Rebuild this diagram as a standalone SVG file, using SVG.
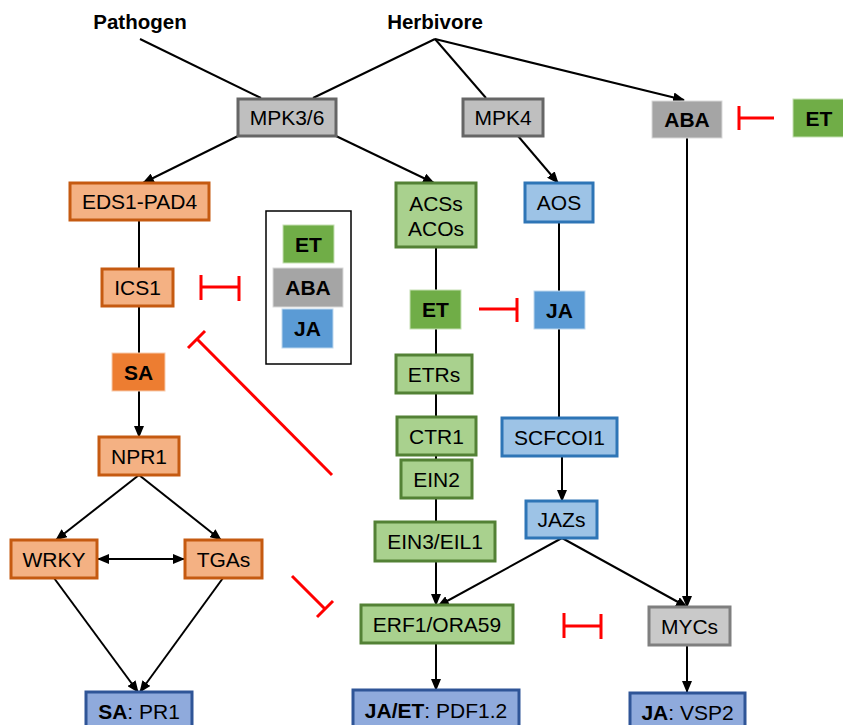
<svg xmlns="http://www.w3.org/2000/svg" width="843" height="725" viewBox="0 0 843 725">
<style>
text{font-family:"Liberation Sans",Arial,sans-serif;font-size:21px;fill:#000;text-anchor:middle}
.b{font-weight:bold}
.h{font-size:20.5px}
.or{fill:#f4b183;stroke:#c55a11;stroke-width:3}
.sa{fill:#ed7d31;stroke:#f8cbad;stroke-width:1}
.gr{fill:#a9d18e;stroke:#538135;stroke-width:3}
.et{fill:#70ad47;stroke:#c5e0b4;stroke-width:1}
.bl{fill:#9dc3e6;stroke:#2e75b6;stroke-width:3}
.ja{fill:#5b9bd5;stroke:#bdd7ee;stroke-width:1}
.gy{fill:#bfbfbf;stroke:#666;stroke-width:3}
.aba{fill:#a5a5a5;stroke:#d9d9d9;stroke-width:1}
.my{fill:#c9c9c9;stroke:#7f7f7f;stroke-width:3}
.out{fill:#8faadc;stroke:#2f5597;stroke-width:3}
.ln{fill:none;stroke:#000;stroke-width:2}
.ar{fill:none;stroke:#000;stroke-width:2;marker-end:url(#ah)}
.inh{fill:none;stroke:#ff0000;stroke-width:3}
</style>
<defs>
<marker id="ah" markerUnits="userSpaceOnUse" markerWidth="12" markerHeight="10" refX="11" refY="5" orient="auto">
<path d="M0,0 L12,5 L0,10 Z" fill="#000"/>
</marker>
<marker id="ahs" markerUnits="userSpaceOnUse" markerWidth="12" markerHeight="10" refX="1" refY="5" orient="auto">
<path d="M12,0 L0,5 L12,10 Z" fill="#000"/>
</marker>
</defs>
<rect width="843" height="725" fill="#fff"/>
<g id="connectors">
<line class="ln" x1="140" y1="39" x2="261" y2="98"/>
<line class="ln" x1="435" y1="39" x2="313" y2="98"/>
<line class="ln" x1="435" y1="39" x2="486" y2="98"/>
<line class="ar" x1="435" y1="39" x2="684" y2="100"/>
<line class="ar" x1="238" y1="136" x2="143" y2="183"/>
<line class="ar" x1="336" y1="136" x2="434" y2="183"/>
<line class="ar" x1="518" y1="136" x2="558" y2="183"/>
<line class="ln" x1="139" y1="220" x2="139" y2="269"/>
<line class="ln" x1="139" y1="306" x2="139" y2="353"/>
<line class="ar" x1="139" y1="391" x2="139" y2="437"/>
<line class="ar" x1="139" y1="475" x2="56" y2="540"/>
<line class="ar" x1="139" y1="475" x2="221" y2="540"/>
<line class="ar" x1="98" y1="559" x2="184" y2="559" marker-start="url(#ahs)"/>
<line class="ar" x1="54" y1="578" x2="138" y2="692"/>
<line class="ar" x1="223" y1="578" x2="140" y2="692"/>
<line class="ar" x1="436" y1="247" x2="436" y2="605"/>
<line class="ar" x1="436" y1="643" x2="436" y2="690"/>
<line class="ln" x1="559" y1="222" x2="559" y2="291"/>
<line class="ln" x1="559" y1="329" x2="559" y2="418"/>
<line class="ar" x1="562" y1="456" x2="562" y2="501"/>
<line class="ar" x1="562" y1="538" x2="438" y2="606"/>
<line class="ar" x1="562" y1="538" x2="687" y2="607"/>
<line class="ar" x1="687" y1="138" x2="687" y2="607"/>
<line class="ar" x1="687" y1="645" x2="687" y2="692"/>
<line class="inh" x1="774" y1="118" x2="739" y2="118"/>
<line class="inh" x1="739" y1="106" x2="739" y2="130"/>
<line class="inh" x1="201" y1="287" x2="239" y2="287"/>
<line class="inh" x1="201" y1="275" x2="201" y2="300"/>
<line class="inh" x1="239" y1="276" x2="239" y2="301"/>
<line class="inh" x1="479" y1="309" x2="517" y2="309"/>
<line class="inh" x1="517" y1="298" x2="517" y2="322"/>
<line class="inh" x1="332" y1="475" x2="197" y2="339"/>
<line class="inh" x1="188" y1="348" x2="205" y2="331"/>
<line class="inh" x1="292" y1="576" x2="325" y2="609"/>
<line class="inh" x1="317" y1="617" x2="333" y2="601"/>
<line class="inh" x1="564" y1="626" x2="601" y2="626"/>
<line class="inh" x1="564" y1="613" x2="564" y2="638"/>
<line class="inh" x1="601" y1="614" x2="601" y2="639"/>
</g>
<g id="pathogen"><text class="b h" x="140" y="29">Pathogen</text></g>
<g id="herbivore"><text class="b h" x="435" y="29">Herbivore</text></g>
<g id="mpk36"><rect class="gy" x="238" y="99" width="98" height="37"/><text x="287" y="125">MPK3/6</text></g>
<g id="mpk4"><rect class="gy" x="463" y="99" width="80" height="37"/><text x="503" y="125">MPK4</text></g>
<g id="aba-top"><rect class="aba" x="652" y="101" width="70" height="37"/><text class="b" x="687" y="127">ABA</text></g>
<g id="et-top"><rect class="et" x="793" y="99" width="52" height="38"/><text class="b" x="819" y="125.5">ET</text></g>
<g id="eds1"><rect class="or" x="70" y="183" width="139" height="37"/><text x="139.5" y="209">EDS1-PAD4</text></g>
<g id="legend">
<rect x="266" y="211" width="85" height="153" fill="#fff" stroke="#000" stroke-width="1.5"/>
<rect class="et" x="283" y="225" width="51" height="38"/><text class="b" x="308.5" y="251.5">ET</text>
<rect class="aba" x="273" y="268" width="70" height="39"/><text class="b" x="308" y="295">ABA</text>
<rect class="ja" x="282" y="309" width="51" height="39"/><text class="b" x="307.5" y="336">JA</text>
</g>
<g id="ics1"><rect class="or" x="102" y="269" width="71" height="37"/><text x="137.5" y="295">ICS1</text></g>
<g id="sa"><rect class="sa" x="112" y="353" width="53" height="38"/><text class="b" x="138.5" y="379.5">SA</text></g>
<g id="npr1"><rect class="or" x="99" y="437" width="80" height="38"/><text x="139" y="463.5">NPR1</text></g>
<g id="wrky"><rect class="or" x="11" y="540" width="86" height="38"/><text x="54" y="566.5">WRKY</text></g>
<g id="tgas"><rect class="or" x="185" y="540" width="77" height="38"/><text x="223.5" y="566.5">TGAs</text></g>
<g id="pr1"><rect class="out" x="86" y="692" width="106" height="38"/><text x="139" y="718.5"><tspan class="b">SA</tspan>: PR1</text></g>
<g id="acs"><rect class="gr" x="396" y="183" width="80" height="64"/><text x="436" y="210.5">ACSs</text><text x="436" y="235.5">ACOs</text></g>
<g id="et-mid"><rect class="et" x="410" y="290" width="51" height="39"/><text class="b" x="435.5" y="317">ET</text></g>
<g id="etrs"><rect class="gr" x="396" y="355" width="76" height="38"/><text x="434" y="381.5">ETRs</text></g>
<g id="ctr1"><rect class="gr" x="397" y="417" width="79" height="38"/><text x="436.5" y="443.5">CTR1</text></g>
<g id="ein2"><rect class="gr" x="401" y="460" width="71" height="38"/><text x="436.5" y="486.5">EIN2</text></g>
<g id="ein3"><rect class="gr" x="375" y="522" width="120" height="39"/><text x="435" y="549">EIN3/EIL1</text></g>
<g id="erf1"><rect class="gr" x="361" y="605" width="152" height="38"/><text x="437" y="631.5">ERF1/ORA59</text></g>
<g id="pdf12"><rect class="out" x="353" y="690" width="166" height="40"/><text x="436" y="717.5"><tspan class="b">JA/ET</tspan>: PDF1.2</text></g>
<g id="aos"><rect class="bl" x="525" y="183" width="68" height="39"/><text x="559" y="210">AOS</text></g>
<g id="ja-mid"><rect class="ja" x="534" y="291" width="51" height="38"/><text class="b" x="559.5" y="317.5">JA</text></g>
<g id="scfcoi1"><rect class="bl" x="502" y="418" width="115" height="38"/><text x="559.5" y="444.5">SCFCOI1</text></g>
<g id="jazs"><rect class="bl" x="526" y="501" width="71" height="37"/><text x="561.5" y="527">JAZs</text></g>
<g id="mycs"><rect class="my" x="649" y="607" width="81" height="38"/><text x="689.5" y="633.5">MYCs</text></g>
<g id="vsp2"><rect class="out" x="630" y="693" width="115" height="38"/><text x="687.5" y="719.5"><tspan class="b">JA</tspan>: VSP2</text></g>
</svg>
